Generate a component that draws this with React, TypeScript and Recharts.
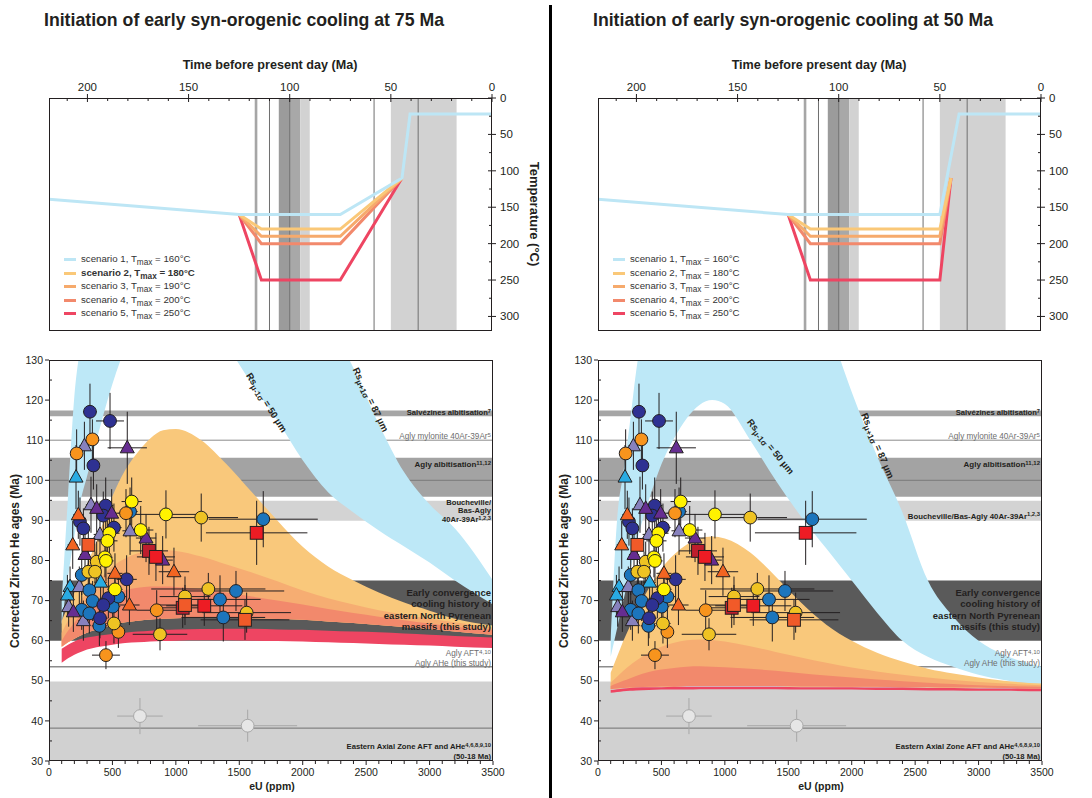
import React from 'react';
import { ComposedChart, Line, Area, Scatter, ErrorBar, XAxis, YAxis, ReferenceArea, ReferenceLine } from 'recharts';

const FONT = '"Liberation Sans", Arial, Helvetica, sans-serif';
const INK = '#231f20';

// ---------- time-temperature paths (top panels) ----------
const timeTicks = [0, 10, 20, 30, 40, 50, 60, 70, 80, 90, 100, 110, 120, 130, 140, 150, 160, 170, 180, 190, 200, 210];
const tempTicks = [0, 25, 50, 75, 100, 125, 150, 175, 200, 225, 250, 275, 300];

const scenarioTmax = [160, 180, 190, 200, 250];
const scenarioColors = ['#bde6f5', '#fac878', '#f6aa6c', '#f2896c', '#ee4562'];

const s1Time75 = [219, 125, 75, 44.5, 40.5, 0];
const s1Temp75 = [139, 160, 160, 110, 22, 22];
const heatTime75 = [125, 114, 75, 44.5];
const s1Time50 = [219, 125, 50, 40.5, 0];
const s1Temp50 = [139, 160, 160, 22, 22];
const heatTime50 = [125, 114, 50, 44.5];
const s2Temp = [160, 180, 180, 110];
const s3Temp = [160, 190, 190, 110];
const s4Temp = [160, 200, 200, 110];
const s5Temp = [160, 250, 250, 110];

// vertical markers on the time axis (Ma)
const topBands = [[116, 117.3], [100, 105.4], [94.7, 100], [90.1, 94.5], [17.5, 50]];
const topBandFills = ['#a6a6a6', '#9b9b9b', '#a8a8a8', '#d2d2d2', '#d2d2d2'];
const topLines = [110, 100, 58.3, 36.5];

// ---------- ZHe age vs eU (bottom panels) ----------
const eUTicks = Array.from({ length: 36 }, (_, i) => i * 100);
const ageTicks = [30, 35, 40, 45, 50, 55, 60, 65, 70, 75, 80, 85, 90, 95, 100, 105, 110, 115, 120, 125, 130];

const eUGrid = [100, 150, 200, 250, 300, 400, 500, 600, 700, 800, 900, 1000, 1200, 1400, 1600, 1800, 2000, 2200, 2400, 2600, 2800, 3000, 3200, 3500];

// onset at 75 Ma
const rs50At75 = [64, 76, 86, 95, 101, 113, 124, 133, 140, 145, 148, 149, 145, 134, 124, 115, 105, 97, 92, 87.5, 83.5, 79.5, 75, 69];
const rs87At75 = [70, 96, 121, 134, 145, 160, 170, 178, 184, 188, 190, 190, 188, 182, 172, 160, 150, 140, 128, 114, 102, 94, 88, 75];
const s2HiAt75 = [65, 68.5, 72, 75.5, 79, 87, 96, 102.5, 107, 110.5, 112.5, 112.8, 110, 104, 97, 90, 83.4, 78.5, 75, 72, 69.5, 67.5, 65.5, 63.8];
const s3HiAt75 = [62, 65, 67.5, 70, 72, 75.5, 78.5, 80.5, 81.8, 82.4, 82.6, 82.4, 81, 79, 77, 74.8, 72.5, 70.6, 69, 67.6, 66.5, 65.5, 64.6, 63.3];
const s4HiAt75 = [60, 62.5, 64.5, 66.5, 68, 70, 71.5, 72.6, 73.2, 73.5, 73.5, 73.4, 72.8, 72, 71, 70, 69, 67.9, 66.9, 66, 65.1, 64.3, 63.5, 62.7];
const s4LoAt75 = [58.5, 59.6, 60.5, 61.3, 62, 63, 64, 64.6, 65, 65.3, 65.5, 65.6, 65.7, 65.7, 65.6, 65.4, 65.2, 64.8, 64.4, 63.9, 63.4, 62.9, 62.3, 61.5];
const s5HiAt75 = [58, 59, 59.8, 60.4, 60.8, 61.3, 61.7, 62, 62.3, 62.5, 62.7, 62.8, 62.9, 63, 63, 62.8, 62.7, 62.5, 62.3, 62.1, 61.8, 61.5, 61.2, 60.8];
const s5LoAt75 = [54.5, 55.6, 56.5, 57.2, 57.8, 58.5, 59, 59.4, 59.6, 59.8, 59.9, 60, 60.1, 60.1, 60, 59.9, 59.8, 59.6, 59.4, 59.2, 59, 58.8, 58.5, 58.2];

// onset at 50 Ma
const rs50At50 = [56, 63, 70, 77, 84, 95, 104, 110.5, 115.5, 118.8, 120, 119, 110, 100, 91, 83, 75, 67, 60, 56, 53.5, 51.5, 50.2, 49];
const rs87At50 = [60, 90, 102, 114, 127, 145, 158, 166, 172, 176, 179, 180, 178, 170, 156, 140, 122, 106, 92, 75, 66, 60, 56.5, 53.5];
const s2HiAt50 = [52, 56, 60, 63.5, 67, 73, 78, 81.5, 84, 85.5, 86, 85.5, 82, 76, 69.5, 64, 60, 57, 54.8, 53, 51.8, 50.8, 50, 49.3];
const s3HiAt50 = [49.5, 51, 52.5, 53.8, 55, 57, 58.5, 59.5, 60.1, 60.3, 60.2, 59.8, 58.6, 57.2, 55.8, 54.5, 53.3, 52.3, 51.5, 50.8, 50.2, 49.7, 49.3, 48.9];
const s4HiAt50 = [48.7, 49.4, 50, 50.6, 51.2, 52.2, 52.8, 53.2, 53.5, 53.6, 53.5, 53.4, 53, 52.5, 51.9, 51.3, 50.8, 50.3, 49.9, 49.5, 49.2, 48.9, 48.7, 48.5];
const s4LoAt50 = [47.9, 48.1, 48.2, 48.3, 48.4, 48.5, 48.6, 48.6, 48.7, 48.7, 48.7, 48.7, 48.7, 48.7, 48.6, 48.6, 48.5, 48.5, 48.4, 48.4, 48.3, 48.3, 48.2, 48.1];
const s5HiAt50 = [47.7, 47.9, 48.1, 48.2, 48.3, 48.4, 48.4, 48.5, 48.5, 48.5, 48.5, 48.5, 48.5, 48.5, 48.4, 48.4, 48.4, 48.3, 48.3, 48.2, 48.2, 48.1, 48.1, 48];
const s5LoAt50 = [47, 47.2, 47.4, 47.5, 47.6, 47.7, 47.8, 47.8, 47.8, 47.9, 47.9, 47.9, 47.9, 47.9, 47.8, 47.8, 47.8, 47.7, 47.7, 47.6, 47.6, 47.5, 47.5, 47.4];

// geological reference ages (Ma)
const salvezines = [116, 117.4];
const aglyAlbitisation = [95.9, 105.6];
const boucheville = [89.9, 94.9];
const earlyConvergence = [60, 75];
const eastAxialZone = [30, 49.8];
const refLines = [110, 100, 53.5, 38.2];

// samples: [eU, age, eU error, age error]
const navyPts = [[323, 117.1, 55, 7], [481, 114.8, 110, 7], [350, 103.7, 40, 6], [447, 93.7, 60, 7], [428, 91.2, 50, 6], [244, 89.7, 40, 6], [271, 88, 45, 5], [512, 88.2, 60, 6], [612, 75.3, 80, 6], [468, 70.6, 60, 5], [428, 68.9, 60, 5], [402, 65.6, 60, 5]];
const bluePts = [[639, 92.2, 60, 6], [1689, 90.3, 430, 7], [258, 76.4, 50, 5], [318, 72.6, 50, 5], [344, 69.9, 50, 5], [258, 67.7, 50, 5], [318, 66.8, 60, 5], [502, 68.5, 60, 5], [397, 63.7, 60, 5], [547, 71, 60, 5], [1474, 72.4, 380, 5], [1348, 70.3, 320, 6], [1374, 65.8, 330, 6]];
const lightBlueTri = [[213, 100.8, 30, 8], [166, 73.5, 30, 5], [145, 71.4, 30, 5], [407, 74.6, 50, 5]];
const lavenderTri = [[279, 108.6, 40, 6], [331, 93.9, 40, 7], [639, 87.4, 60, 6], [402, 86.5, 50, 5], [239, 73.5, 40, 5], [155, 68.5, 30, 5], [271, 65, 40, 5]];
const purpleTri = [[617, 108.1, 155, 9], [376, 93, 50, 6], [494, 91.8, 60, 6], [765, 85.6, 80, 6], [284, 81.5, 40, 5], [896, 80.1, 80, 6], [192, 67.2, 30, 5]];
const orangePts = [[342, 110.2, 40, 5], [218, 106.7, 30, 6], [607, 91.8, 60, 6], [849, 67.6, 160, 5], [547, 62.2, 50, 4], [449, 56.4, 110, 3.5]];
const yellowPts = [[652, 94.7, 80, 6], [922, 91.5, 250, 6], [723, 87.6, 100, 6], [476, 86.8, 80, 6], [460, 84.9, 80, 5], [441, 80.8, 60, 5], [449, 79.9, 60, 5], [520, 72.8, 60, 5]];
const goldPts = [[1200, 90.7, 290, 6], [376, 79.7, 50, 5], [310, 77.2, 50, 5], [363, 77.2, 50, 5], [1256, 72.9, 450, 4], [1072, 71, 200, 5], [1558, 67, 350, 5], [512, 64.3, 60, 5], [875, 61.6, 215, 4]];
const redSq = [[1637, 86.9, 400, 8], [843, 80.9, 150, 6], [1224, 68.7, 300, 5]];
const darkRedSq = [[788, 82.4, 150, 6], [1054, 68.2, 200, 5]];
const orangeRedSq = [[310, 83.9, 50, 5], [1072, 68.9, 200, 5], [1545, 65.2, 350, 5]];
const orangeTri = [[231, 91.4, 40, 6], [187, 83.9, 40, 6], [985, 77.2, 120, 6], [520, 76.8, 60, 5], [634, 68.9, 80, 5]];
const axialPts = [[717, 41.2, 180, 4.5], [1566, 38.8, 390, 4]];

// ---------- helpers ----------
const path = (ts: number[], Ts: number[]) => ts.map((t, i) => ({ t, T: Ts[i] }));
const rows = (pts: number[][]) => pts.map(([x, y, ex, ey]) => ({ x, y, ex, ey }));
const envelopeTable = (rs50: number[], rs87: number[], s2: number[], s3: number[], s4: number[], s4lo: number[], s5hi: number[], s5lo: number[]) =>
  eUGrid.map((x, i) => ({
    x,
    rs: [rs50[i], rs87[i]],
    s2: [s4lo[i], s2[i]],
    s3: [s4lo[i], s3[i]],
    s4: [s4lo[i], s4[i]],
    s5: [s5lo[i], s5hi[i]],
  }));

const table75 = envelopeTable(rs50At75, rs87At75, s2HiAt75, s3HiAt75, s4HiAt75, s4LoAt75, s5HiAt75, s5LoAt75);
const table50 = envelopeTable(rs50At50, rs87At50, s2HiAt50, s3HiAt50, s4HiAt50, s4LoAt50, s5HiAt50, s5LoAt50);

const circle = (fill: string, stroke = INK) => (p: any) => <circle cx={p.cx} cy={p.cy} r={6.4} fill={fill} stroke={stroke} strokeWidth={1} />;
const triangle = (fill: string) => (p: any) => (
  <polygon points={`${p.cx},${p.cy - 7.5} ${p.cx + 7},${p.cy + 5} ${p.cx - 7},${p.cy + 5}`} fill={fill} stroke={INK} strokeWidth={1} strokeLinejoin="round" />
);
const square = (fill: string) => (p: any) => <rect x={p.cx - 6.4} y={p.cy - 6.4} width={12.8} height={12.8} fill={fill} stroke={INK} strokeWidth={1} />;

const series = [
  { pts: axialPts, shape: circle('#e6e6e6', '#a8a8a8'), bar: '#a8a8a8' },
  { pts: lightBlueTri, shape: triangle('#29abe2'), bar: INK },
  { pts: lavenderTri, shape: triangle('#8781bd'), bar: INK },
  { pts: bluePts, shape: circle('#1c75bc'), bar: INK },
  { pts: navyPts, shape: circle('#2e3192'), bar: INK },
  { pts: purpleTri, shape: triangle('#662d91'), bar: INK },
  { pts: orangeTri, shape: triangle('#f26522'), bar: INK },
  { pts: orangePts, shape: circle('#f7941d'), bar: INK },
  { pts: goldPts, shape: circle('#efc323'), bar: INK },
  { pts: yellowPts, shape: circle('#fff200'), bar: INK },
  { pts: darkRedSq, shape: square('#be1e2d'), bar: INK },
  { pts: orangeRedSq, shape: square('#f15a29'), bar: INK },
  { pts: redSq, shape: square('#ed1c24'), bar: INK },
];

function TimeTick({ x, y, payload }: any) {
  const v = payload.value;
  const major = v % 50 === 0;
  return (
    <g>
      <line x1={x} x2={x} y1={major ? y - 4 : y} y2={y + (major ? 4 : 3)} stroke={INK} />
      {major && <text x={x} y={y - 7} textAnchor="middle" fontSize={11.5} fontFamily={FONT} fill={INK}>{v}</text>}
    </g>
  );
}
function TempTick({ x, y, payload }: any) {
  const v = payload.value;
  const major = v % 50 === 0;
  return (
    <g>
      <line x1={major ? x - 4 : x - 3} x2={major ? x + 4 : x} y1={y} y2={y} stroke={INK} />
      {major && <text x={x + 8} y={y} dy="0.35em" textAnchor="start" fontSize={11.5} fontFamily={FONT} fill={INK}>{v}</text>}
    </g>
  );
}
function AgeTick({ x, y, payload }: any) {
  const v = payload.value;
  const major = v % 10 === 0;
  return (
    <g>
      <line x1={major ? x - 4 : x} x2={major ? x : x + 3} y1={y} y2={y} stroke={INK} />
      {major && <text x={x - 6} y={y} dy="0.35em" textAnchor="end" fontSize={10.5} fontFamily={FONT} fill={INK}>{v}</text>}
    </g>
  );
}
function EUTick({ x, y, payload }: any) {
  const v = payload.value;
  const major = v % 500 === 0;
  return (
    <g>
      <line x1={x} x2={x} y1={y} y2={y + (major ? 4 : 3)} stroke={INK} />
      {major && <text x={x} y={y + 15} textAnchor="middle" fontSize={10.5} fontFamily={FONT} fill={INK}>{v}</text>}
    </g>
  );
}

function Txt({ x, y, anchor = 'start', size = 10, bold = false, color = INK, rotate = 0, lh, children }: any) {
  const tx = anchor === 'end' ? '-100%' : anchor === 'middle' ? '-50%' : '0';
  return (
    <div
      style={{
        position: 'absolute', left: x, top: y,
        transform: `translate(${tx},-50%)${rotate ? ` rotate(${rotate}deg)` : ''}`,
        fontFamily: FONT, fontSize: size, fontWeight: bold ? 700 : 400, color,
        whiteSpace: 'nowrap', lineHeight: lh ? `${lh}px` : 1.15, textAlign: anchor === 'end' ? 'right' : anchor === 'middle' ? 'center' : 'left',
      }}
    >
      {children}
    </div>
  );
}
const Sup = ({ children }: any) => <sup style={{ fontSize: '0.75em', lineHeight: 0, verticalAlign: '0.35em' }}>{children}</sup>;
const Sub = ({ children }: any) => <sub style={{ fontSize: '0.85em', lineHeight: 0, verticalAlign: '-0.3em' }}>{children}</sub>;

function Panel({ dx, onset, s1Path, heatTime, table, rsLabels, boldIdx, splitBoucheville, showTempLabel }: any) {
  const heatPaths = [s5Temp, s4Temp, s3Temp, s2Temp];
  return (
    <div style={{ position: 'absolute', left: dx, top: 0, width: 560, height: 798 }}>
      <Txt x={244} y={20} anchor="middle" size={17.7} bold>Initiation of early syn-orogenic cooling at {onset} Ma</Txt>
      <Txt x={270} y={65} anchor="middle" size={12.6} bold>Time before present day (Ma)</Txt>

      <div style={{ position: 'absolute', left: 0, top: 0 }}>
        <ComposedChart width={560} height={340} margin={{ top: 68, right: 28, bottom: 9, left: 49 }}>
          <XAxis type="number" dataKey="t" orientation="top" reversed domain={[0, 219]} allowDataOverflow ticks={timeTicks} interval={0} tick={(p: any) => <TimeTick {...p} />} tickSize={0} tickMargin={0} tickLine={false} axisLine={false} height={30} />
          <YAxis type="number" orientation="right" reversed domain={[0, 320]} allowDataOverflow ticks={tempTicks} interval={0} tick={(p: any) => <TempTick {...p} />} tickSize={0} tickMargin={0} tickLine={false} axisLine={false} width={40} />
          {topBands.map((b, i) => (
            <ReferenceArea key={`tb${i}`} x1={b[0]} x2={b[1]} fill={topBandFills[i]} fillOpacity={1} stroke="none" zIndex={10} />
          ))}
          {topLines.map((t) => (
            <ReferenceLine key={`tl${t}`} x={t} stroke="#6f6f6f" strokeWidth={1} zIndex={20} />
          ))}
          {heatPaths.map((temps, i) => (
            <Line key={`h${i}`} data={path(heatTime, temps)} dataKey="T" stroke={scenarioColors[4 - i]} strokeWidth={3} dot={false} isAnimationActive={false} />
          ))}
          <Line data={s1Path} dataKey="T" stroke={scenarioColors[0]} strokeWidth={3} dot={false} isAnimationActive={false} />
        </ComposedChart>
      </div>
      <div style={{ position: 'absolute', left: 49, top: 98, width: 443, height: 233, border: `1px solid ${INK}`, boxSizing: 'border-box' }} />
      {showTempLabel && <Txt x={534} y={214} anchor="middle" size={13} bold rotate={90}>Temperature (°C)</Txt>}
      {scenarioTmax.map((tm, i) => (
        <React.Fragment key={`lg${i}`}>
          <div style={{ position: 'absolute', left: 64, top: 258 + i * 13.5, width: 12, height: 3, background: scenarioColors[i] }} />
          <Txt x={81} y={259 + i * 13.5} size={9.7} bold={i === boldIdx} color="#333">
            scenario {i + 1}, T<Sub>max</Sub> = {tm}°C
          </Txt>
        </React.Fragment>
      ))}

      <div style={{ position: 'absolute', left: 0, top: 340 }}>
        <ComposedChart width={560} height={458} data={table} margin={{ top: 20, right: 67, bottom: 7, left: 19 }}>
          <XAxis type="number" dataKey="x" domain={[0, 3500]} allowDataOverflow ticks={eUTicks} interval={0} tick={(p: any) => <EUTick {...p} />} tickSize={0} tickMargin={0} tickLine={false} axisLine={false} height={30} />
          <YAxis type="number" domain={[30, 130]} allowDataOverflow ticks={ageTicks} interval={0} tick={(p: any) => <AgeTick {...p} />} tickSize={0} tickMargin={0} tickLine={false} axisLine={false} width={30} />
          <ReferenceArea y1={salvezines[0]} y2={salvezines[1]} fill="#a6a6a6" fillOpacity={1} stroke="none" zIndex={10} />
          <ReferenceArea y1={aglyAlbitisation[0]} y2={aglyAlbitisation[1]} fill="#a3a3a3" fillOpacity={1} stroke="none" zIndex={10} />
          <ReferenceArea y1={boucheville[0]} y2={boucheville[1]} fill="#d3d3d3" fillOpacity={1} stroke="none" zIndex={10} />
          <ReferenceArea y1={earlyConvergence[0]} y2={earlyConvergence[1]} fill="#5a5a5a" fillOpacity={1} stroke="none" zIndex={10} />
          <ReferenceArea y1={eastAxialZone[0]} y2={eastAxialZone[1]} fill="#d1d1d1" fillOpacity={1} stroke="none" zIndex={10} />
          <ReferenceLine y={refLines[0]} stroke="#8c8c8c" strokeWidth={1} zIndex={20} />
          <ReferenceLine y={refLines[1]} stroke="#7a7a7a" strokeWidth={1} zIndex={20} />
          <ReferenceLine y={refLines[2]} stroke="#8c8c8c" strokeWidth={1.5} zIndex={20} />
          <ReferenceLine y={refLines[3]} stroke="#6f6f6f" strokeWidth={1} zIndex={20} />
          <Area dataKey="rs" type="monotone" fill="#bde8f7" fillOpacity={1} stroke="none" dot={false} activeDot={false} isAnimationActive={false} />
          <Area dataKey="s2" type="monotone" fill="#f9c87b" fillOpacity={1} stroke="none" dot={false} activeDot={false} isAnimationActive={false} />
          <Area dataKey="s3" type="monotone" fill="#f6ad72" fillOpacity={1} stroke="none" dot={false} activeDot={false} isAnimationActive={false} />
          <Area dataKey="s4" type="monotone" fill="#f2896c" fillOpacity={1} stroke="none" dot={false} activeDot={false} isAnimationActive={false} />
          <Area dataKey="s5" type="monotone" fill="#ee4562" fillOpacity={1} stroke="none" dot={false} activeDot={false} isAnimationActive={false} />
          {series.map((s, i) => (
            <Scatter key={`sc${i}`} data={rows(s.pts)} dataKey="y" shape={s.shape} isAnimationActive={false}>
              <ErrorBar dataKey="ex" direction="x" width={0} stroke={s.bar} strokeWidth={1} />
              <ErrorBar dataKey="ey" direction="y" width={0} stroke={s.bar} strokeWidth={1} />
            </Scatter>
          ))}
        </ComposedChart>
      </div>
      <div style={{ position: 'absolute', left: 49, top: 360, width: 444, height: 401, border: `1px solid ${INK}`, boxSizing: 'border-box' }} />

      {rsLabels.map((r: any, i: number) => (
        <Txt key={`rs${i}`} x={r.x} y={r.y} anchor="middle" size={9.5} bold rotate={r.rot}>
          Rs<Sub>{r.sub}</Sub> = {r.val} μm
        </Txt>
      ))}

      <Txt x={491} y={413} anchor="end" size={7.6} bold>Salvézines albitisation<Sup>7</Sup></Txt>
      <Txt x={491} y={437} anchor="end" size={8.2} color="#6d6d6d">Agly mylonite 40Ar-39Ar<Sup>5</Sup></Txt>
      <Txt x={491} y={465} anchor="end" size={8} bold>Agly albitisation<Sup>11,12</Sup></Txt>
      {splitBoucheville ? (
        <Txt x={491} y={511.5} anchor="end" size={7.6} bold lh={8.6}>
          Boucheville/<br />Bas-Agly<br />40Ar-39Ar<Sup>1,2,3</Sup>
        </Txt>
      ) : (
        <Txt x={491} y={517} anchor="end" size={7.8} bold>Boucheville/Bas-Agly 40Ar-39Ar<Sup>1,2,3</Sup></Txt>
      )}
      <Txt x={491} y={610} anchor="end" size={9.5} bold lh={11.4}>
        Early convergence<br />cooling history of<br />eastern North Pyrenean<br />massifs (this study)
      </Txt>
      <Txt x={491} y={654} anchor="end" size={8.2} color="#6d6d6d">Agly AFT<Sup>4,10</Sup></Txt>
      <Txt x={491} y={663.5} anchor="end" size={8.2} color="#6d6d6d">Agly AHe (this study)</Txt>
      <Txt x={491} y={747} anchor="end" size={7.7} bold>Eastern Axial Zone AFT and AHe<Sup>4,6,8,9,10</Sup></Txt>
      <Txt x={491} y={756.5} anchor="end" size={7.7} bold>(50-18 Ma)</Txt>

      <Txt x={16} y={561} anchor="middle" size={12} bold rotate={-90}>Corrected Zircon He ages (Ma)</Txt>
      <Txt x={272} y={786} anchor="middle" size={10.5} bold>eU (ppm)</Txt>
    </div>
  );
}

export default function App() {
  return (
    <div style={{ position: 'absolute', left: 0, top: 0, width: 1092, height: 798, overflow: 'hidden', background: '#fff' }}>
      <Panel
        dx={0}
        onset={75}
        s1Path={path(s1Time75, s1Temp75)}
        heatTime={heatTime75}
        table={table75}
        boldIdx={1}
        splitBoucheville
        showTempLabel
        rsLabels={[
          { x: 266, y: 403, rot: 58, sub: 'μ-1σ', val: 50 },
          { x: 370, y: 400, rot: 64.5, sub: 'μ+1σ', val: 87 },
        ]}
      />
      <Panel
        dx={549}
        onset={50}
        s1Path={path(s1Time50, s1Temp50)}
        heatTime={heatTime50}
        table={table50}
        boldIdx={-1}
        splitBoucheville={false}
        showTempLabel={false}
        rsLabels={[
          { x: 221, y: 447, rot: 51, sub: 'μ-1σ', val: 50 },
          { x: 328, y: 446, rot: 67, sub: 'μ+1σ', val: 87 },
        ]}
      />
      <div style={{ position: 'absolute', left: 549, top: 5, width: 3, height: 793, background: '#000' }} />
    </div>
  );
}
